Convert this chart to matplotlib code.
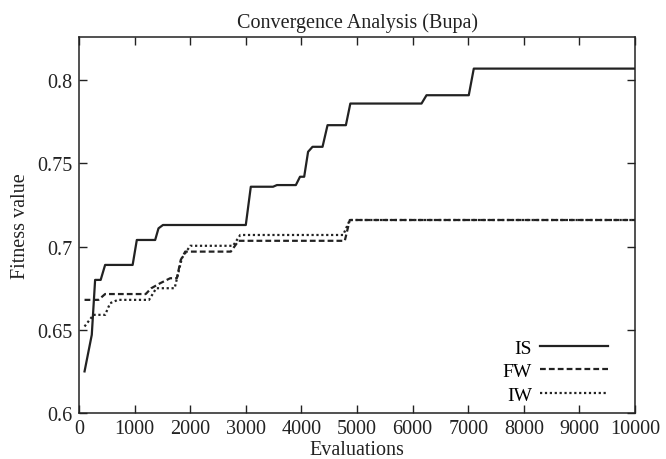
import matplotlib
matplotlib.use("Agg")
import matplotlib.pyplot as plt
from matplotlib.ticker import FixedLocator, FixedFormatter

# values
is_x = [100, 230, 290, 390, 470, 965, 1040, 1370, 1430, 1510, 3000, 3090, 3490, 3560,
        3900, 3975, 4050, 4120, 4200, 4380, 4470, 4800, 4880, 6160, 6250, 7010, 7100, 10000]
is_y = [0.625, 0.647, 0.680, 0.680, 0.689, 0.689, 0.704, 0.704, 0.711, 0.713, 0.713, 0.736, 0.736, 0.737,
        0.737, 0.742, 0.742, 0.757, 0.760, 0.760, 0.773, 0.773, 0.786, 0.786, 0.791, 0.791, 0.807, 0.807]

fw_x = [100, 350, 470, 1200, 1300, 1460, 1640, 1760, 1830, 1910, 2730, 2870, 4780, 4870, 10000]
fw_y = [0.668, 0.668, 0.6715, 0.6715, 0.675, 0.678, 0.681, 0.681, 0.692, 0.697, 0.697, 0.7035, 0.7035, 0.716, 0.716]

iw_x = [100, 260, 470, 560, 700, 1260, 1390, 1720, 1850, 2000, 2770, 2900, 4750, 4870, 10000]
iw_y = [0.652, 0.659, 0.659, 0.666, 0.668, 0.668, 0.675, 0.675, 0.693, 0.7005, 0.7005, 0.707, 0.707, 0.716, 0.716]

x_ticks = [0, 1000, 2000, 3000, 4000, 5000, 6000, 7000, 8000, 9000, 10000]
y_ticks = [0.6, 0.65, 0.7, 0.75, 0.8]
y_labels = ["0.6", "0.65", "0.7", "0.75", "0.8"]

plt.rcParams["font.family"] = ["Liberation Serif", "DejaVu Serif"]
ink = "#222222"

fig = plt.figure(figsize=(6.66, 4.6), dpi=100)
ax = fig.add_axes([0.1186, 0.1, 0.8349, 0.8174])

ax.plot(is_x, is_y, color=ink, lw=1.6, linestyle="-", label="IS")
ax.plot(fw_x, fw_y, color=ink, lw=1.6, linestyle=(0, (2.6, 1.4)), label="FW")
ax.plot(iw_x, iw_y, color=ink, lw=1.6, linestyle=(0, (1.0, 1.2)), label="IW")

ax.set_xlim(0, 10000)
ax.set_ylim(0.6, 0.826)
ax.xaxis.set_major_locator(FixedLocator(x_ticks))
ax.xaxis.set_major_formatter(FixedFormatter([str(t) for t in x_ticks]))
ax.yaxis.set_major_locator(FixedLocator(y_ticks))
ax.yaxis.set_major_formatter(FixedFormatter(y_labels))
ax.tick_params(direction="in", length=6, width=1, top=True, right=True,
               labelsize=14.5, colors=ink)
ax.tick_params(axis="x", pad=4)
ax.tick_params(axis="y", pad=5)
for s in ax.spines.values():
    s.set_linewidth(1.1)
    s.set_color(ink)

ax.set_title("Convergence Analysis (Bupa)", fontsize=14.5, color=ink, pad=7)
ax.set_xlabel("Evaluations", fontsize=14.5, color=ink, labelpad=2)
ax.set_ylabel("Fitness value", fontsize=14.5, color=ink, labelpad=5)

ax.legend(loc="lower right", bbox_to_anchor=(0.951, 0.025), frameon=False,
          markerfirst=False, fontsize=14, handlelength=3.5, handletextpad=0.4,
          labelspacing=0.3, borderpad=0, borderaxespad=0)

fig.savefig("out.png", dpi=100)
